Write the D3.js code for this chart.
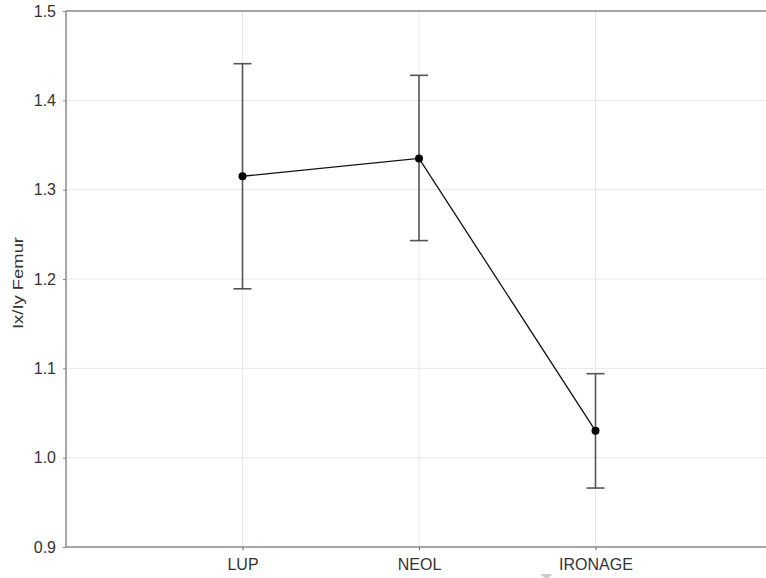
<!DOCTYPE html>
<html>
<head>
<meta charset="utf-8">
<script src="https://cdn.jsdelivr.net/npm/d3@7"></script>
<style>
  body { margin: 0; background: #fff; }
  text { font-family: "Liberation Sans", Arial, sans-serif; }
</style>
</head>
<body>
<svg></svg>
<script>
const w = 766;
const h = 578;

const categories = ['LUP', 'NEOL', 'IRONAGE'];
const means = [1.315, 1.335, 1.030];
const upper = [1.441, 1.428, 1.094];
const lower = [1.189, 1.243, 0.966];
const yTicks = [0.9, 1.0, 1.1, 1.2, 1.3, 1.4, 1.5];

const padLeft = 66, padRight = 772, padTop = 11, padBottom = 547;

const svg = d3.select('svg').attr('width', w).attr('height', h);

const xScale = d3.scaleLinear().domain([0, 4]).range([padLeft, padRight]);
const yScale = d3.scaleLinear().domain([0.9, 1.5]).range([padBottom, padTop]);

const data = categories.map((c, i) => ({ c, i: i + 1, m: means[i], hi: upper[i], lo: lower[i] }));

// grid
svg.append('g')
  .selectAll('line')
  .data(yTicks.slice(1, -1))
  .enter()
  .append('line')
  .attr('x1', padLeft).attr('x2', w)
  .attr('y1', (d) => yScale(d)).attr('y2', (d) => yScale(d))
  .attr('stroke', '#e6e6e6').attr('stroke-width', 1);

svg.append('g')
  .selectAll('line')
  .data(data)
  .enter()
  .append('line')
  .attr('x1', (d) => xScale(d.i)).attr('x2', (d) => xScale(d.i))
  .attr('y1', padTop).attr('y2', padBottom)
  .attr('stroke', '#e6e6e6').attr('stroke-width', 1);

// axes
const yAxis = d3.axisLeft(yScale).tickValues(yTicks).tickFormat(d3.format('.1f')).tickSize(3).tickPadding(7);
const gy = svg.append('g').attr('transform', `translate(${padLeft},0)`).call(yAxis);
gy.select('.domain').remove();
gy.selectAll('line').attr('stroke', '#888');
gy.selectAll('text').attr('font-size', 16).attr('fill', '#333');

const xAxis = d3.axisBottom(xScale).tickValues(data.map((d) => d.i))
  .tickFormat((d) => categories[d - 1]).tickSize(3).tickPadding(9);
const gx = svg.append('g').attr('transform', `translate(0,${padBottom})`).call(xAxis);
gx.select('.domain').remove();
gx.selectAll('line').attr('stroke', '#555');
gx.selectAll('text').attr('font-size', 16).attr('fill', '#333');

// frame
svg.append('line').attr('x1', padLeft).attr('x2', w).attr('y1', padTop).attr('y2', padTop)
  .attr('stroke', '#888').attr('stroke-width', 1.5);
svg.append('line').attr('x1', padLeft).attr('x2', w).attr('y1', padBottom).attr('y2', padBottom)
  .attr('stroke', '#888').attr('stroke-width', 1.5);
svg.append('line').attr('x1', padLeft).attr('x2', padLeft).attr('y1', padTop).attr('y2', padBottom)
  .attr('stroke', '#888').attr('stroke-width', 1.5);

// y label
svg.append('text')
  .attr('transform', 'translate(23,283) rotate(-90)')
  .attr('text-anchor', 'middle')
  .attr('font-size', 14)
  .attr('fill', '#333')
  .attr('textLength', 92)
  .attr('lengthAdjust', 'spacingAndGlyphs')
  .text('Ix/Iy Femur');

// error bars
const eb = svg.append('g').attr('stroke', '#555').attr('stroke-width', 1.6);
eb.selectAll('.v').data(data).enter().append('line')
  .attr('x1', (d) => xScale(d.i)).attr('x2', (d) => xScale(d.i))
  .attr('y1', (d) => yScale(d.hi)).attr('y2', (d) => yScale(d.lo));
eb.selectAll('.t').data(data).enter().append('line')
  .attr('x1', (d) => xScale(d.i) - 9).attr('x2', (d) => xScale(d.i) + 9)
  .attr('y1', (d) => yScale(d.hi)).attr('y2', (d) => yScale(d.hi));
eb.selectAll('.b').data(data).enter().append('line')
  .attr('x1', (d) => xScale(d.i) - 9).attr('x2', (d) => xScale(d.i) + 9)
  .attr('y1', (d) => yScale(d.lo)).attr('y2', (d) => yScale(d.lo));

// mean line
const line = d3.line().x((d) => xScale(d.i)).y((d) => yScale(d.m));
svg.append('path').datum(data).attr('d', line)
  .attr('fill', 'none').attr('stroke', '#111').attr('stroke-width', 1.3);

svg.selectAll('circle').data(data).enter().append('circle')
  .attr('cx', (d) => xScale(d.i)).attr('cy', (d) => yScale(d.m))
  .attr('r', 4).attr('fill', '#000');

// small grey marker under the axis
svg.append('path').attr('d', 'M540,574 L553,574 L548,578 L545,578 Z').attr('fill', '#ccc');
</script>
</body>
</html>
